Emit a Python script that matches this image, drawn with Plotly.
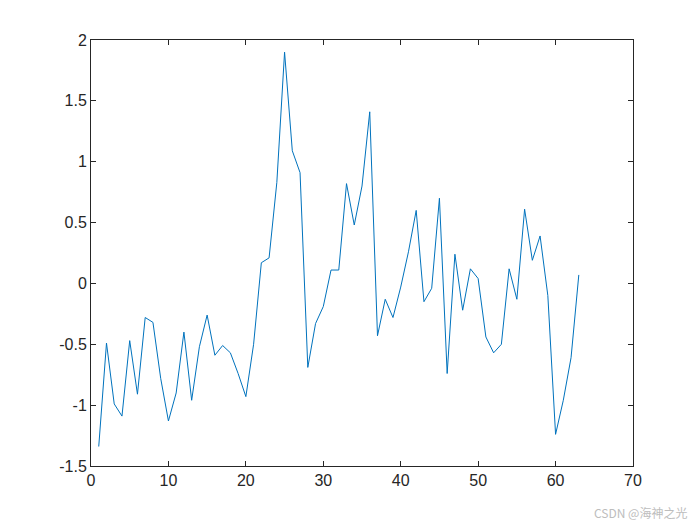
import plotly.graph_objects as go

# sample index and signal values
x_vals = list(range(1, 64))
y_vals = [
    -1.34, -0.49, -0.99, -1.09, -0.47, -0.91, -0.28, -0.32, -0.78, -1.13,
    -0.90, -0.40, -0.96, -0.52, -0.26, -0.59, -0.51, -0.57, -0.74, -0.93,
    -0.50, 0.17, 0.21, 0.83, 1.90, 1.09, 0.91, -0.69, -0.33, -0.19,
    0.11, 0.11, 0.82, 0.48, 0.80, 1.41, -0.43, -0.13, -0.28, -0.03,
    0.26, 0.60, -0.15, -0.04, 0.70, -0.74, 0.24, -0.22, 0.12, 0.04,
    -0.44, -0.57, -0.50, 0.12, -0.13, 0.61, 0.19, 0.39, -0.10, -1.24,
    -0.96, -0.61, 0.07,
]

x_ticks = [0, 10, 20, 30, 40, 50, 60, 70]
y_ticks = [-1.5, -1, -0.5, 0, 0.5, 1, 1.5, 2]
y_tick_text = ["-1.5", "-1", "-0.5", "0", "0.5", "1", "1.5", "2"]

axis_color = "#262626"
font = dict(family="Liberation Sans, Arial, sans-serif", size=16, color=axis_color)

fig = go.Figure(
    go.Scatter(
        x=x_vals,
        y=y_vals,
        mode="lines",
        line=dict(color="#0072BD", width=1),
        showlegend=False,
    )
)

axis_common = dict(
    showgrid=False,
    zeroline=False,
    showline=True,
    linecolor=axis_color,
    linewidth=1,
    mirror="ticks",
    ticks="inside",
    ticklen=5,
    tickcolor=axis_color,
    tickfont=font,
)

fig.update_xaxes(range=[0, 70], tickvals=x_ticks, **axis_common)
fig.update_yaxes(range=[-1.5, 2], tickvals=y_ticks, ticktext=y_tick_text, **axis_common)

# watermark in the bottom-right corner
fig.add_annotation(
    text="CSDN @海神之光",
    xref="paper", yref="paper",
    x=1.103, y=-0.109,
    xanchor="right", yanchor="middle",
    showarrow=False,
    font=dict(family="Noto Sans CJK SC, sans-serif", size=12, color="#bdbdbd"),
)

# page body adds an 8px offset, so the figure is sized to fit inside it
fig.update_layout(
    width=692,
    height=517,
    margin=dict(l=83, r=67, t=32, b=59, autoexpand=False),
    plot_bgcolor="white",
    paper_bgcolor="white",
    font=font,
)

fig.write_html("out.html")
